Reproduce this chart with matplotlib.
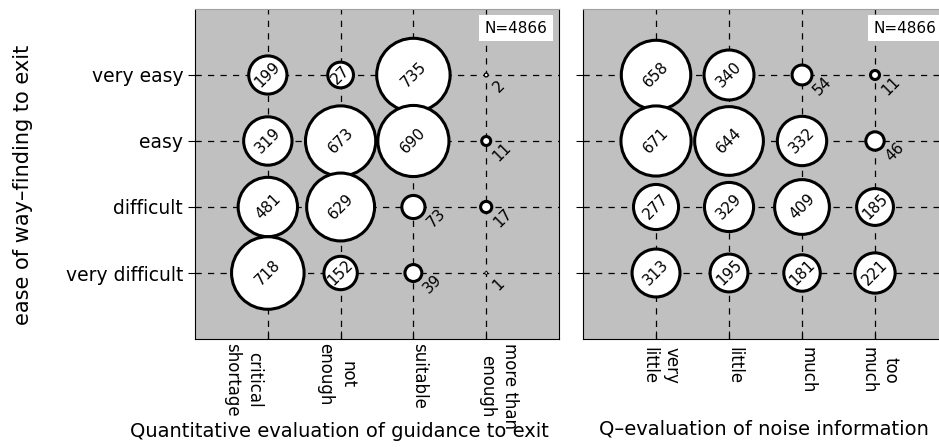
import numpy as np
import matplotlib
matplotlib.use('Agg')
import matplotlib.pyplot as plt

plt.rcParams['font.family'] = ['DejaVu Sans']

# data
rows = ['very easy', 'easy', 'difficult', 'very difficult']
guide_cols = ['critical\nshortage', 'not\nenough', 'suitable', 'more than\nenough']
noise_cols = ['very\nlittle', 'little', 'much', 'too\nmuch']

guide_counts = np.array([[199, 27, 735, 2],
                         [319, 673, 690, 11],
                         [481, 629, 73, 17],
                         [718, 152, 39, 1]])
guide_inside = np.array([[1, 1, 1, 0],
                         [1, 1, 1, 0],
                         [1, 1, 0, 0],
                         [1, 1, 0, 0]], dtype=bool)

noise_counts = np.array([[658, 340, 54, 11],
                         [671, 644, 332, 46],
                         [277, 329, 409, 185],
                         [313, 195, 181, 221]])
noise_inside = np.array([[1, 1, 0, 0],
                         [1, 1, 1, 0],
                         [1, 1, 1, 1],
                         [1, 1, 1, 1]], dtype=bool)

n_total = 4866

# horizontal nudges of the tick labels (points), as in the original layout
guide_shift = [-18, -3, 4, 9]
noise_shift = [3, 3.5, 4, 3.5]

DPI = 100
K = 3.8  # points^2 per respondent


def draw_panel(ax, counts, inside, cols, shifts, show_rows, pad):
    ax.set_facecolor('#c0c0c0')
    ax.set_xlim(0, 5)
    ax.set_ylim(0, 5)
    xs = np.arange(1, 5)
    ys = np.arange(4, 0, -1)
    ax.set_xticks(xs)
    ax.set_xticklabels([])
    for x, lab, dx in zip(xs, cols, shifts):
        ax.annotate(lab, (x, 0), xycoords=('data', 'axes fraction'),
                    xytext=(dx, -pad), textcoords='offset points',
                    rotation=270, ha='center', va='top', fontsize=12,
                    linespacing=1.3, annotation_clip=False)
    ax.set_yticks(ys)
    if show_rows:
        ax.set_yticklabels(rows, fontsize=13.5)
    else:
        ax.set_yticklabels([])
    ax.tick_params(axis='x', direction='in', length=6)
    ax.tick_params(axis='y', direction='out', length=5)
    ax.grid(True, linestyle=(0, (5, 5)), color='black', linewidth=0.9)
    ax.set_axisbelow(True)
    ax.spines['top'].set_color('#a0a0a0')

    X, Y = np.meshgrid(xs, ys)
    area = np.where(inside, np.maximum(counts, 90), counts)
    s = K * area
    d_pt = np.sqrt(s)
    lw = np.minimum(2.2, 0.35 * d_pt)
    ax.scatter(X.ravel(), Y.ravel(), s=s.ravel(), facecolor='white',
               edgecolor='black', linewidths=lw.ravel(), zorder=3)

    for i in range(4):
        for j in range(4):
            v = counts[i, j]
            if inside[i, j]:
                ax.text(X[i, j], Y[i, j], str(v), rotation=45, ha='center',
                        va='center', fontsize=11, zorder=4,
                        rotation_mode='anchor')
            else:
                r_px = d_pt[i, j] * DPI / 72 / 2
                ax.annotate(str(v), (X[i, j], Y[i, j]),
                            xytext=((r_px + 11) * 0.72, -8),
                            textcoords='offset points', rotation=45,
                            ha='center', va='center', fontsize=11, zorder=4)

    ax.text(0.968, 0.965, 'N=%d' % n_total, transform=ax.transAxes,
            ha='right', va='top', fontsize=11, zorder=5,
            bbox=dict(facecolor='white', edgecolor='none', pad=4))


fig = plt.figure(figsize=(9.39, 4.47), dpi=DPI)
ax1 = fig.add_axes([0.2077, 0.2416, 0.3876, 0.7383])
ax2 = fig.add_axes([0.6209, 0.2416, 0.3887, 0.7383])

draw_panel(ax1, guide_counts, guide_inside, guide_cols, guide_shift, True, 3)
draw_panel(ax2, noise_counts, noise_inside, noise_cols, noise_shift, False, 6)

fig.text(0.362, 0.034, 'Quantitative evaluation of guidance to exit',
         ha='center', va='center', fontsize=14)
fig.text(0.814, 0.040, 'Q\u2013evaluation of noise information',
         ha='center', va='center', fontsize=14)
fig.text(0.0245, 0.586, 'ease of way\u2013finding to exit', rotation=90,
         ha='center', va='center', fontsize=15)

fig.savefig('out.png', dpi=DPI)
